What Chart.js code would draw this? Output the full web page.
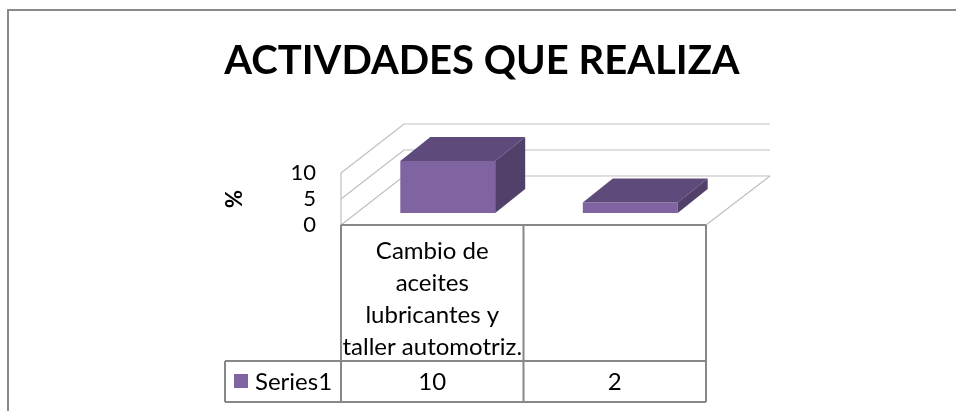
<!DOCTYPE html>
<html>
<head>
<meta charset="utf-8">
<script src="https://cdn.jsdelivr.net/npm/chart.js@4"></script>
<style>
  html, body { margin: 0; padding: 0; background: #fff; }
  #wrap { width: 956px; height: 411px; }
</style>
</head>
<body>
<div id="wrap"><canvas id="chart" width="956" height="411"></canvas></div>
<script>
// --- data ---
const categories = [
  ['Cambio de', 'aceites', 'lubricantes y', 'taller automotriz.'],
  []
];
const seriesName = 'Series1';
const seriesValues = [10, 2];
const yTicks = [0, 5, 10];

// --- look ---
const FONT = 'Lato, "Open Sans", sans-serif';
const front = '#8064A2', topFace = '#5F4B7B', sideFace = '#514069';
const gridCol = '#BFBFBF', tableCol = '#878787';
const shift = { x: 15.5, y: -12 };   // bar front plane behind the floor front edge
const depth = { x: 30, y: -24 };     // bar depth
const wall = { x: 63, y: -49 };      // floor depth
const rowTop = 361, rowBottom = 402, legendLeft = 225;

// frame + white background
const framePlugin = {
  id: 'frame',
  beforeDraw(chart) {
    const c = chart.ctx;
    c.save();
    c.fillStyle = '#fff';
    c.fillRect(0, 0, chart.width, chart.height);
    c.strokeStyle = '#8A8A8A';
    c.lineWidth = 2;
    c.strokeRect(8, 10, chart.width + 10, chart.height + 10);
    c.restore();
  }
};

// back wall, side wall and floor
const wallsPlugin = {
  id: 'walls',
  beforeDatasetsDraw(chart) {
    const c = chart.ctx, a = chart.chartArea, y = chart.scales.y;
    const y0 = y.getPixelForValue(0);
    c.save();
    c.strokeStyle = gridCol;
    c.lineWidth = 1.2;
    yTicks.forEach(v => {
      const py = y.getPixelForValue(v);
      c.beginPath();
      c.moveTo(a.left, py);
      c.lineTo(a.left + wall.x, py + wall.y);
      c.lineTo(a.right + wall.x + 1, py + wall.y);
      c.stroke();
    });
    c.beginPath();
    c.moveTo(a.left, y.getPixelForValue(yTicks[yTicks.length - 1]));
    c.lineTo(a.left, y0);
    c.moveTo(a.right, y0);
    c.lineTo(a.right + wall.x + 1, y0 + wall.y);
    c.stroke();
    c.restore();

    // shift the bars back into the floor
    c.save();
    c.translate(shift.x, shift.y);
  },
  afterDatasetsDraw(chart) {
    const c = chart.ctx;
    c.restore();
    const meta = chart.getDatasetMeta(0);
    c.save();
    meta.data.forEach(bar => {
      const l = bar.x - bar.width / 2 + shift.x, r = bar.x + bar.width / 2 + shift.x;
      const t = bar.y + shift.y, b = bar.base + shift.y;
      c.fillStyle = topFace;
      c.beginPath();
      c.moveTo(l, t); c.lineTo(l + depth.x, t + depth.y);
      c.lineTo(r + depth.x, t + depth.y); c.lineTo(r, t);
      c.closePath(); c.fill();
      c.fillStyle = sideFace;
      c.beginPath();
      c.moveTo(r, t); c.lineTo(r + depth.x, t + depth.y);
      c.lineTo(r + depth.x, b + depth.y); c.lineTo(r, b);
      c.closePath(); c.fill();
    });
    c.restore();
  }
};

// data table under the floor
const tablePlugin = {
  id: 'dataTable',
  afterDraw(chart) {
    const c = chart.ctx, a = chart.chartArea, x = chart.scales.x, y = chart.scales.y;
    const y0 = y.getPixelForValue(0);
    const n = categories.length;
    const colW = (a.right - a.left) / n;
    c.save();
    c.strokeStyle = tableCol;
    c.lineWidth = 2;
    c.beginPath();
    c.moveTo(a.left, y0); c.lineTo(a.right, y0);
    for (let i = 0; i <= n; i++) {
      const px = a.left + colW * i;
      c.moveTo(px, y0); c.lineTo(px, rowBottom);
    }
    c.moveTo(legendLeft, rowTop); c.lineTo(a.right, rowTop);
    c.moveTo(legendLeft, rowBottom); c.lineTo(a.right, rowBottom);
    c.moveTo(legendLeft, rowTop); c.lineTo(legendLeft, rowBottom);
    c.stroke();

    c.fillStyle = '#000';
    c.font = '24px ' + FONT;
    c.textAlign = 'center';
    c.textBaseline = 'middle';
    categories.forEach((lines, i) => {
      const cx = x.getPixelForValue(i);
      lines.forEach((ln, k) => c.fillText(ln, cx, 251 + k * 32));
      c.fillText(String(seriesValues[i]), cx, (rowTop + rowBottom) / 2 + 1);
    });
    c.fillStyle = front;
    c.fillRect(234, 374, 14, 14);
    c.fillStyle = '#000';
    c.textAlign = 'left';
    c.fillText(seriesName, 255, (rowTop + rowBottom) / 2 + 1);
    c.restore();
  }
};

new Chart(document.getElementById('chart'), {
  type: 'bar',
  data: {
    labels: categories,
    datasets: [{
      label: seriesName,
      data: seriesValues,
      backgroundColor: front,
      borderWidth: 0,
      categoryPercentage: 0.52,
      barPercentage: 1
    }]
  },
  options: {
    responsive: false,
    animation: false,
    events: [],
    layout: { padding: { top: 10, left: 8, right: 0, bottom: 0 } },
    plugins: {
      legend: { display: false },
      tooltip: { enabled: false },
      title: {
        display: true,
        text: 'ACTIVDADES QUE REALIZA',
        color: '#000',
        font: { family: FONT, size: 40, weight: 'bold', lineHeight: 1.2 },
        padding: { top: 27, bottom: 88 }
      }
    },
    scales: {
      x: {
        grid: { display: false },
        border: { display: false },
        ticks: { display: false },
        afterFit(axis) { axis.height = 186; }
      },
      y: {
        min: 0, max: 10,
        afterBuildTicks(axis) { axis.ticks = yTicks.map(v => ({ value: v })); },
        grid: { display: false, drawTicks: false },
        border: { display: false },
        ticks: { color: '#000', padding: 25, autoSkip: false, font: { family: FONT, size: 22 } },
        title: {
          display: true, text: '%', color: '#000',
          font: { family: FONT, size: 22, weight: 'bold' },
          padding: { top: 214 }
        },
        afterFit(axis) { axis.width = 333; }
      },
      // empty space on the right of the plot, as in the original layout
      yRight: {
        position: 'right',
        grid: { display: false },
        border: { display: false },
        ticks: { display: false },
        afterFit(axis) { axis.width = 250; }
      }
    }
  },
  plugins: [framePlugin, wallsPlugin, tablePlugin]
});
</script>
</body>
</html>
